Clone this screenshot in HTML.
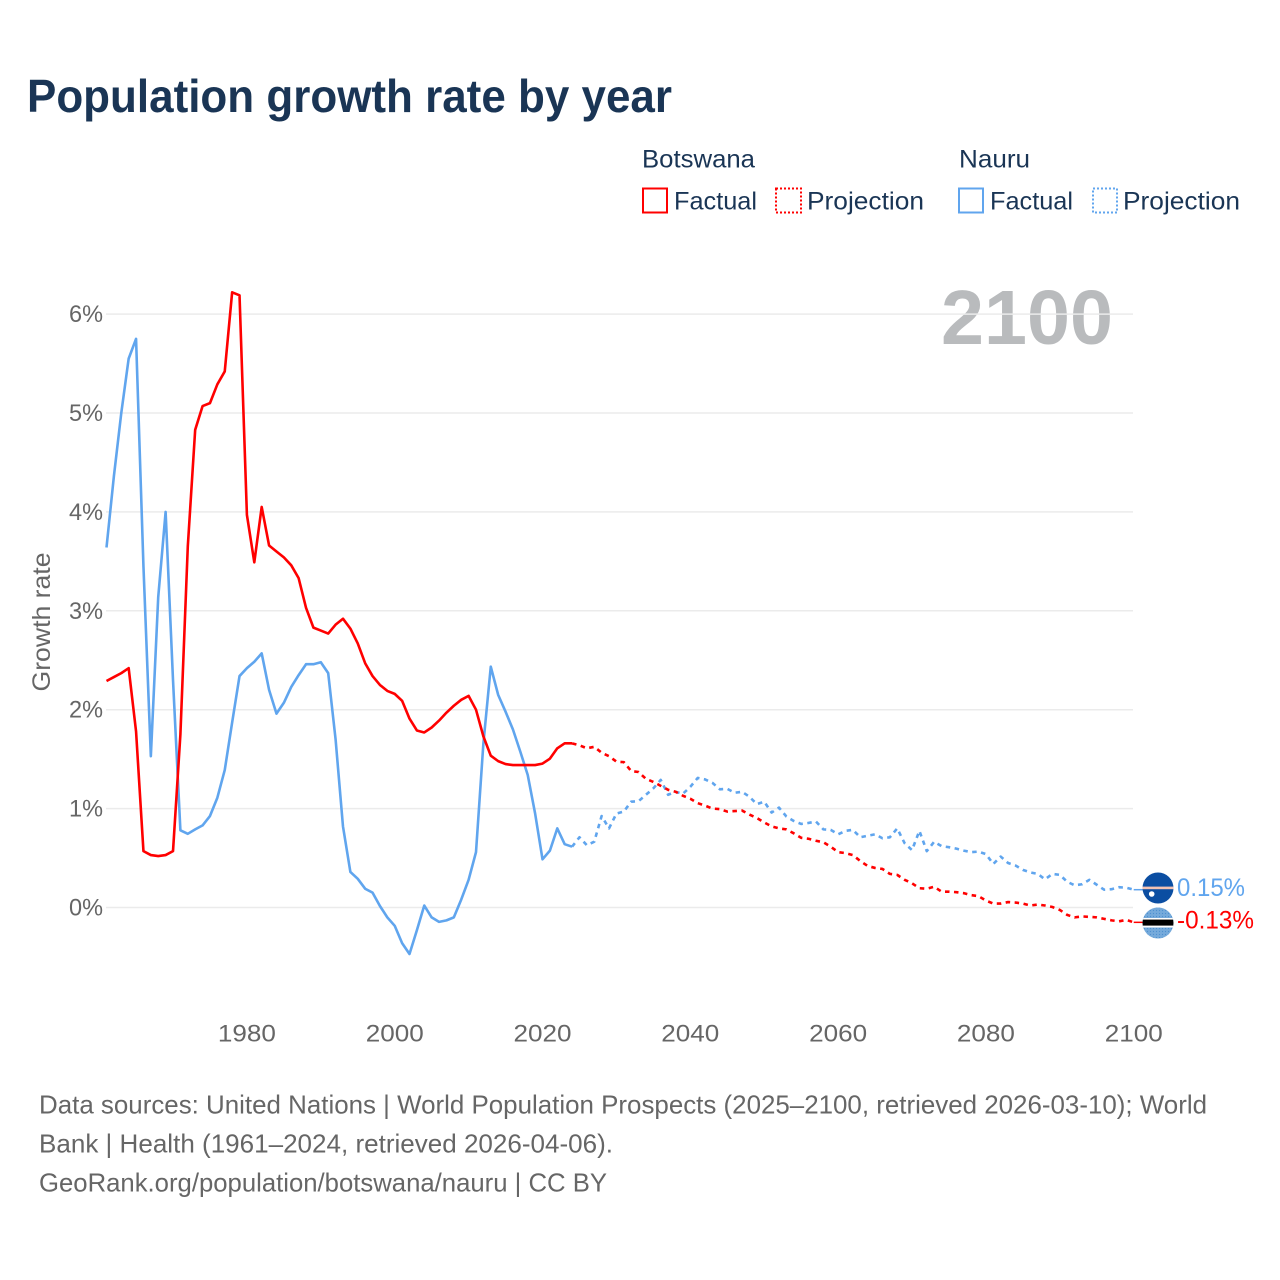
<!DOCTYPE html>
<html lang="en">
<head>
<meta charset="utf-8">
<title>Population growth rate by year</title>
<style>
html,body{margin:0;padding:0;background:#fff}
svg{display:block}
text{font-family:"Liberation Sans",sans-serif}
</style>
</head>
<body>
<svg id="chart" xmlns="http://www.w3.org/2000/svg" width="1280" height="1280" viewBox="0 0 1280 1280">
<defs>
<pattern id="dots" width="3" height="3" patternUnits="userSpaceOnUse"><rect width="3" height="3" fill="#75aadb"/><circle cx="1.5" cy="1.5" r="0.6" fill="#4d8fd0"/></pattern>
<clipPath id="clip-nauru"><circle id="clip-nauru-c" cx="1158" cy="888" r="15.5"/></clipPath>
<clipPath id="clip-botswana"><circle id="clip-botswana-c" cx="1158" cy="923" r="15.5"/></clipPath>
</defs>
<rect width="1280" height="1280" fill="#fff"/>
<text x="27" y="112" font-size="46" font-weight="700" fill="#1a3555" textLength="645" lengthAdjust="spacingAndGlyphs">Population growth rate by year</text>

<g>
<text x="642" y="167.5" font-size="25" fill="#1a3555" textLength="113" lengthAdjust="spacingAndGlyphs">Botswana</text>
<text x="959" y="167.5" font-size="25" fill="#1a3555" textLength="71" lengthAdjust="spacingAndGlyphs">Nauru</text>
<rect x="643" y="188.5" width="24" height="24" fill="none" stroke="#ff0000" stroke-width="2"/>
<text x="674" y="209.5" font-size="25" fill="#1a3555" textLength="83" lengthAdjust="spacingAndGlyphs">Factual</text>
<rect x="776" y="188.5" width="25" height="24" fill="none" stroke="#ff0000" stroke-width="2" stroke-dasharray="2 2"/>
<text x="807" y="209.5" font-size="25" fill="#1a3555" textLength="117" lengthAdjust="spacingAndGlyphs">Projection</text>
<rect x="959" y="188.5" width="24" height="24" fill="none" stroke="#60a5ee" stroke-width="2"/>
<text x="990" y="209.5" font-size="25" fill="#1a3555" textLength="83" lengthAdjust="spacingAndGlyphs">Factual</text>
<rect x="1093" y="188.5" width="24" height="24" fill="none" stroke="#60a5ee" stroke-width="2" stroke-dasharray="2 2"/>
<text x="1123" y="209.5" font-size="25" fill="#1a3555" textLength="117" lengthAdjust="spacingAndGlyphs">Projection</text>
</g>

<text transform="translate(50,622) rotate(-90)" text-anchor="middle" font-size="25" fill="#666" textLength="139" lengthAdjust="spacingAndGlyphs">Growth rate</text>
<text x="941" y="344" font-size="77" font-weight="700" fill="#b9bbbd" textLength="172" lengthAdjust="spacingAndGlyphs">2100</text>

<g id="grid"></g>
<g id="yticks"></g>
<g id="xticks"></g>
<g id="series"></g>

<g id="flag-nauru" clip-path="url(#clip-nauru)">
<rect x="1142" y="872" width="32" height="32" fill="#0b4ea2"/>
<rect x="1142" y="886.6" width="32" height="2.6" fill="#f3c3b4"/>
<circle cx="1151.7" cy="894" r="2.8" fill="#fff"/>
</g>
<g id="flag-botswana" clip-path="url(#clip-botswana)">
<rect x="1142" y="907" width="32" height="32" fill="url(#dots)"/>
<rect x="1142" y="918" width="32" height="9.5" fill="#fff"/>
<rect x="1142" y="919.6" width="32" height="6" fill="#000"/>
</g>
<text id="label-nauru" x="1177" y="896" font-size="25" fill="#60a5ee" textLength="68" lengthAdjust="spacingAndGlyphs"></text>
<text id="label-botswana" x="1177" y="928.5" font-size="25" fill="#ff0000" textLength="77" lengthAdjust="spacingAndGlyphs"></text>

<g font-size="26" fill="#666">
<text x="39" y="1113.5" textLength="1168" lengthAdjust="spacingAndGlyphs">Data sources: United Nations | World Population Prospects (2025–2100, retrieved 2026-03-10); World</text>
<text x="39" y="1152.5" textLength="574" lengthAdjust="spacingAndGlyphs">Bank | Health (1961–2024, retrieved 2026-04-06).</text>
<text x="39" y="1191.5" textLength="568" lengthAdjust="spacingAndGlyphs">GeoRank.org/population/botswana/nauru | CC BY</text>
</g>
</svg>
<script>
const factualStartYear = 1961;
const projectionStartYear = 2024;
const yTickValues = [0, 1, 2, 3, 4, 5, 6];
const yTickLabels = ["0%", "1%", "2%", "3%", "4%", "5%", "6%"];
const xTickYears = [1980, 2000, 2020, 2040, 2060, 2080, 2100];
const botswanaEndLabel = "-0.13%";
const nauruEndLabel = "0.15%";

const botswanaFactual = [2.29,2.33,2.37,2.42,1.78,0.57,0.53,0.52,0.53,0.57,1.75,3.65,4.83,5.07,5.10,5.29,5.42,6.22,6.19,3.97,3.49,4.05,3.66,3.60,3.54,3.46,3.33,3.03,2.83,2.80,2.77,2.86,2.92,2.82,2.67,2.47,2.34,2.25,2.19,2.16,2.09,1.91,1.79,1.77,1.82,1.89,1.97,2.04,2.10,2.14,2.00,1.73,1.535,1.48,1.45,1.44,1.44,1.44,1.44,1.455,1.505,1.61,1.66,1.66];
const botswanaProjection = [1.66,1.64,1.61,1.625,1.565,1.53,1.475,1.47,1.38,1.37,1.30,1.27,1.23,1.19,1.17,1.13,1.10,1.055,1.03,1.0,0.995,0.97,0.975,0.98,0.94,0.905,0.86,0.82,0.80,0.79,0.75,0.705,0.695,0.675,0.66,0.615,0.56,0.55,0.53,0.47,0.42,0.40,0.39,0.34,0.33,0.28,0.245,0.195,0.19,0.21,0.16,0.16,0.155,0.145,0.125,0.115,0.07,0.04,0.04,0.055,0.05,0.04,0.02,0.03,0.02,0.005,-0.025,-0.075,-0.10,-0.09,-0.095,-0.10,-0.115,-0.13,-0.14,-0.125,-0.15];
const nauruFactual = [3.64,4.36,5.0,5.55,5.75,3.45,1.53,3.14,4.00,2.3,0.78,0.745,0.79,0.83,0.925,1.11,1.39,1.87,2.34,2.42,2.485,2.57,2.2,1.96,2.07,2.23,2.35,2.46,2.46,2.48,2.37,1.7,0.82,0.36,0.29,0.19,0.15,0.015,-0.10,-0.185,-0.36,-0.47,-0.23,0.02,-0.10,-0.145,-0.13,-0.10,0.08,0.28,0.56,1.66,2.435,2.15,1.98,1.80,1.575,1.34,0.95,0.487,0.575,0.80,0.64,0.615];
const nauruProjection = [0.615,0.71,0.63,0.665,0.925,0.80,0.95,0.97,1.07,1.075,1.14,1.205,1.29,1.14,1.17,1.15,1.22,1.31,1.295,1.26,1.195,1.20,1.16,1.17,1.12,1.045,1.07,0.96,1.01,0.92,0.875,0.845,0.855,0.87,0.79,0.785,0.74,0.775,0.785,0.71,0.725,0.74,0.70,0.71,0.80,0.65,0.58,0.775,0.57,0.665,0.62,0.61,0.595,0.575,0.56,0.565,0.54,0.44,0.515,0.45,0.425,0.38,0.355,0.34,0.285,0.34,0.33,0.26,0.225,0.235,0.28,0.23,0.18,0.185,0.205,0.20,0.18];

const NS = "http://www.w3.org/2000/svg";
function xScale(year) { return 106.5 + (year - 1961) * 7.39; }
function yScale(value) { return 907.5 - value * 98.9; }

const gridGroup = document.getElementById("grid");
const yTickGroup = document.getElementById("yticks");
const xTickGroup = document.getElementById("xticks");
const seriesGroup = document.getElementById("series");

yTickValues.forEach(function (value, i) {
  const line = document.createElementNS(NS, "line");
  
  
  line.setAttribute("x1", 106);
  line.setAttribute("x2", 1133);
  line.setAttribute("y1", yScale(value));
  line.setAttribute("y2", yScale(value));
  line.setAttribute("stroke", "#ebebeb");
  line.setAttribute("stroke-width", "1.5");
  gridGroup.appendChild(line);

  const label = document.createElementNS(NS, "text");
  
  
  label.setAttribute("x", 103);
  label.setAttribute("y", yScale(value) + 8);
  label.setAttribute("text-anchor", "end");
  label.setAttribute("font-size", "24");
  label.setAttribute("fill", "#666");
  label.setAttribute("textLength", "34");
  label.setAttribute("lengthAdjust", "spacingAndGlyphs");
  label.textContent = yTickLabels[i];
  yTickGroup.appendChild(label);
});

xTickYears.forEach(function (year) {
  const label = document.createElementNS(NS, "text");
  
  
  label.setAttribute("x", xScale(year));
  label.setAttribute("y", 1041.5);
  label.setAttribute("text-anchor", "middle");
  label.setAttribute("font-size", "24");
  label.setAttribute("fill", "#666");
  label.setAttribute("textLength", "58");
  label.setAttribute("lengthAdjust", "spacingAndGlyphs");
  label.textContent = String(year);
  xTickGroup.appendChild(label);
});

function pointsFor(values, startYear) {
  return values.map(function (v, i) {
    return xScale(startYear + i).toFixed(2) + "," + yScale(v).toFixed(2);
  }).join(" ");
}

function drawSeries(name, values, startYear, color, dashed) {
  const line = document.createElementNS(NS, "polyline");
  
  
  line.setAttribute("points", pointsFor(values, startYear));
  line.setAttribute("fill", "none");
  line.setAttribute("stroke", color);
  line.setAttribute("stroke-width", "2.6");
  line.setAttribute("stroke-linejoin", "round");
  if (dashed) {
    line.setAttribute("stroke-dasharray", "4.5 4.5");
  }
  seriesGroup.appendChild(line);
}

function drawConnector(name, values, startYear, color) {
  const lastY = yScale(values[values.length - 1]);
  const line = document.createElementNS(NS, "line");
  
  
  line.setAttribute("x1", xScale(startYear + values.length - 1));
  line.setAttribute("x2", 1145);
  line.setAttribute("y1", lastY);
  line.setAttribute("y2", lastY);
  line.setAttribute("stroke", color);
  line.setAttribute("stroke-width", "1.5");
  seriesGroup.appendChild(line);
}

drawSeries("nauru-factual-line", nauruFactual, factualStartYear, "#60a5ee", false);
drawSeries("nauru-projection-line", nauruProjection, projectionStartYear, "#60a5ee", true);
drawSeries("botswana-factual-line", botswanaFactual, factualStartYear, "#ff0000", false);
drawSeries("botswana-projection-line", botswanaProjection, projectionStartYear, "#ff0000", true);
drawConnector("nauru-end-connector", nauruProjection, projectionStartYear, "#60a5ee");
drawConnector("botswana-end-connector", botswanaProjection, projectionStartYear, "#ff0000");

document.getElementById("label-nauru").textContent = nauruEndLabel;
document.getElementById("label-botswana").textContent = botswanaEndLabel;
</script>
</body>
</html>
